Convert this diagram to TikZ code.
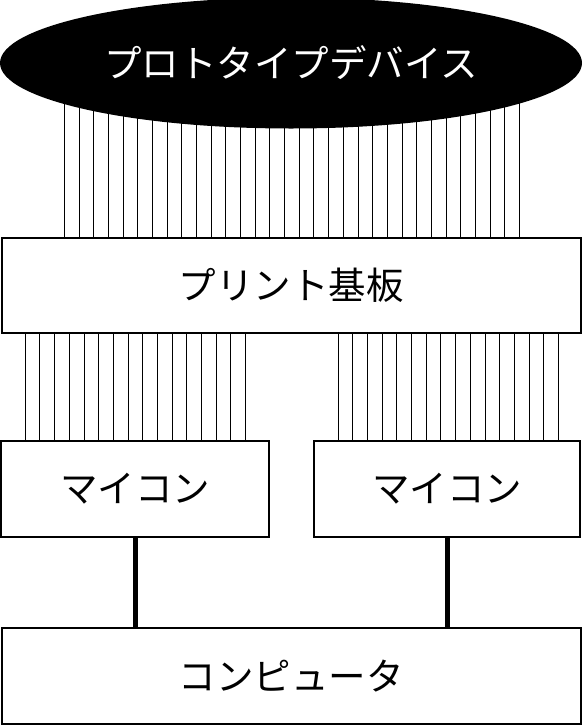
\documentclass[tikz,border=0pt]{standalone}
\usepackage{fontspec}
\newfontfamily\jp{Noto Sans CJK JP}
\usetikzlibrary{shapes.geometric}
\tikzset{
  box/.style={draw=black, line width=2pt, fill=white, inner sep=0pt, font=\jp\fontsize{37.5}{40}\selectfont},
  wire/.style={draw=black, line width=1pt},
  busline/.style={draw=black, line width=5pt},
}
\begin{document}
\begin{tikzpicture}[x=1pt,y=-1pt]
\useasboundingbox (0,0) rectangle (582,726);
\node[box, minimum width=579pt, minimum height=95pt] (board) at (291,285) {プリント基板};
\node[box, minimum width=268pt, minimum height=96pt] (m1) at (135,489) {マイコン};
\node[box, minimum width=266pt, minimum height=96pt] (m2) at (447,489) {マイコン};
\node[box, minimum width=579pt, minimum height=96pt] (pc) at (291,676) {コンピュータ};
\coordinate (devc) at (291,63);
\foreach \i in {0,...,31} {
  \pgfmathsetmacro{\xx}{64.6+\i*14.67}
  \draw[wire] (\xx,0 |- board.north) -- (\xx,0 |- devc);
}
\foreach \i in {0,...,15} {
  \pgfmathsetmacro{\xa}{25.3+\i*14.69}
  \pgfmathsetmacro{\xb}{338.3+\i*14.67}
  \draw[wire] (\xa,0 |- m1.north) -- (\xa,0 |- board.south);
  \draw[wire] (\xb,0 |- m2.north) -- (\xb,0 |- board.south);
}
\node[ellipse, fill=black, inner sep=0pt, minimum width=582pt, minimum height=131pt, text=white, font=\jp\fontsize{37.5}{40}\selectfont] (dev) at (devc) {プロトタイプデバイス};
\draw[busline] (m1.south) -- (m1.south |- pc.north);
\draw[busline] (m2.south) -- (m2.south |- pc.north);
\end{tikzpicture}
\end{document}
